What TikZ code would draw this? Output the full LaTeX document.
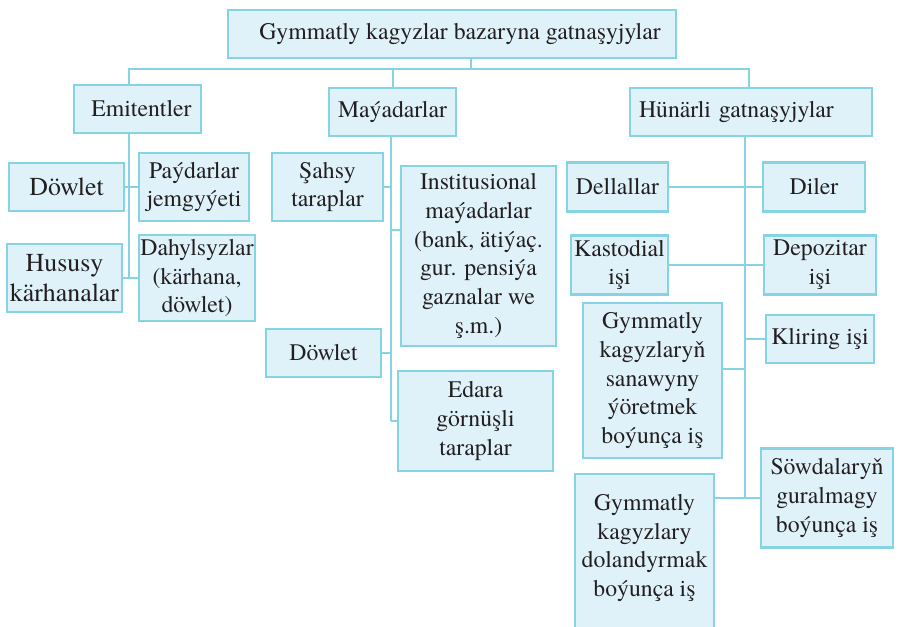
\documentclass[tikz,border=0pt]{standalone}
\usepackage{fontspec}
\setmainfont{texgyretermes-regular.otf}
\usepackage{xcolor}
\usetikzlibrary{positioning,calc}

\definecolor{boxline}{HTML}{86D3E3}
\definecolor{boxfill}{HTML}{DFF2FA}
\definecolor{inktext}{HTML}{231F20}

\begin{document}
\begin{tikzpicture}[
    x=0.75pt, y=-0.75pt,
    box/.style={rectangle, draw=boxline, fill=boxfill, line width=1.8pt, align=center, inner sep=0pt, text=inktext, font=\fontsize{17.8}{21.5}\selectfont},
    bigbox/.style={box, font=\fontsize{19.4}{23}\selectfont},
    link/.style={draw=boxline, line width=1.5pt}
]
\useasboundingbox (0,0) rectangle (899,626);

% Top Layer - Root
\node[box, minimum width=336pt, minimum height=36pt] (root) at (452,34) {\hspace*{12pt}Gymmatly kagyzlar bazaryna gatnaşyjylar};

% Second Layer - Groups
\node[box, minimum width=95.25pt, minimum height=36pt] (emit) at (137.5,109) {\hspace*{6pt}Emitentler};
\node[box, minimum width=95.25pt, minimum height=36pt] (maya) at (392.5,112) {Maýadarlar};
\node[box, minimum height=36pt, align=left, text width=168pt, inner xsep=6.75pt] (hun) at (751,112) {Hünärli gatnaşyjylar};

% Emitentler
\node[bigbox, minimum width=86.25pt, minimum height=36pt] (edowlet) at (66.5,187) {Döwlet};
\node[box, minimum width=82.5pt, minimum height=51pt] (paydar) at (194,187) {Paýdarlar\\jemgyýeti};
\node[bigbox, minimum width=86.25pt, minimum height=51pt] (hususy) at (64.5,278) {Hususy\\kärhanalar};
\node[box, minimum width=87pt, minimum height=64.5pt] (dahyl) at (197,278) {Dahylsyzlar\\(kärhana,\\döwlet)};

% Maýadarlar
\node[box, minimum width=83.25pt, minimum height=51pt] (sahsy) at (327.5,187) {Şahsy\\taraplar};
\node[box, minimum width=116.25pt, minimum height=135pt] (inst) at (478.5,256) {Institusional\\maýadarlar\\(bank, ätiýaç.\\gur. pensiýa\\gaznalar we\\ş.m.)};
\node[box, minimum width=86.25pt, minimum height=36pt] (mdowlet) at (323.5,353) {Döwlet};
\node[box, minimum width=116.25pt, minimum height=75pt] (edara) at (475.5,421) {Edara\\görnüşli\\taraplar};

% Hünärli gatnaşyjylar
\node[box, minimum width=75.75pt, minimum height=36.75pt] (dell) at (617.5,187) {Dellallar};
\node[box, minimum width=76.5pt, minimum height=36.75pt] (diler) at (814,187) {Diler};
\node[box, minimum width=72.75pt, minimum height=44.25pt] (kast) at (619.5,265) {Kastodial\\işi};
\node[box, minimum width=84pt, minimum height=44.25pt] (depo) at (820,265) {Depozitar\\işi};
\node[box, minimum width=104.25pt, minimum height=116.25pt] (sanaw) at (652.5,380.5) {Gymmatly\\kagyzlaryň\\sanawyny\\ýöretmek\\boýunça iş};
\node[box, minimum width=81pt, minimum height=36pt] (klir) at (820,339) {Kliring işi};
\node[box, minimum width=104.25pt, anchor=north, inner ysep=15pt, text depth=110pt] (dolan) at (644.5,473) {Gymmatly\\kagyzlary\\dolandyrmak\\boýunça iş};
\node[box, minimum width=99pt, minimum height=74.25pt] (sowda) at (827,498) {Söwdalaryň\\guralmagy\\boýunça iş};

% Bus
\coordinate (busL) at (129,69);
\coordinate (busM) at (471,69);
\coordinate (busR) at (749,69);
\draw[link] (root.south -| busM) -- (busM);
\draw[link] (emit.north -| busL) -- (busL) -- (busR) -- (hun.north -| busR);
\draw[link] (maya.north) -- (maya.north |- busL);

% Emitentler spine
\coordinate (espine) at (129,0);
\draw[link] (emit.south -| espine) -- (hususy.east -| espine);
\draw[link] (edowlet.east) -- (paydar.west);
\draw[link] (hususy.east) -- (hususy.east -| dahyl.west);

% Maýadarlar spine
\coordinate (mspine) at (391,0);
\coordinate (minst) at (391,230);
\draw[link] (maya.south -| mspine) -- (edara.west -| mspine);
\draw[link] (sahsy.east) -- (sahsy.east -| mspine);
\draw[link] (minst) -- (minst -| inst.west);
\draw[link] (mdowlet.east) -- (mdowlet.east -| mspine);
\draw[link] (edara.west -| mspine) -- (edara.west);

% Hünärli spine
\coordinate (hspine) at (745,0);
\coordinate (hsanaw) at (745,369);
\draw[link] (hun.south -| hspine) -- (sowda.west -| hspine);
\draw[link] (dell.east) -- (diler.west);
\draw[link] (kast.east) -- (depo.west);
\draw[link] (klir.west) -- (klir.west -| hspine);
\draw[link] (hsanaw) -- (hsanaw -| sanaw.east);
\draw[link] (sowda.west -| dolan.east) -- (sowda.west);

\end{tikzpicture}
\end{document}
